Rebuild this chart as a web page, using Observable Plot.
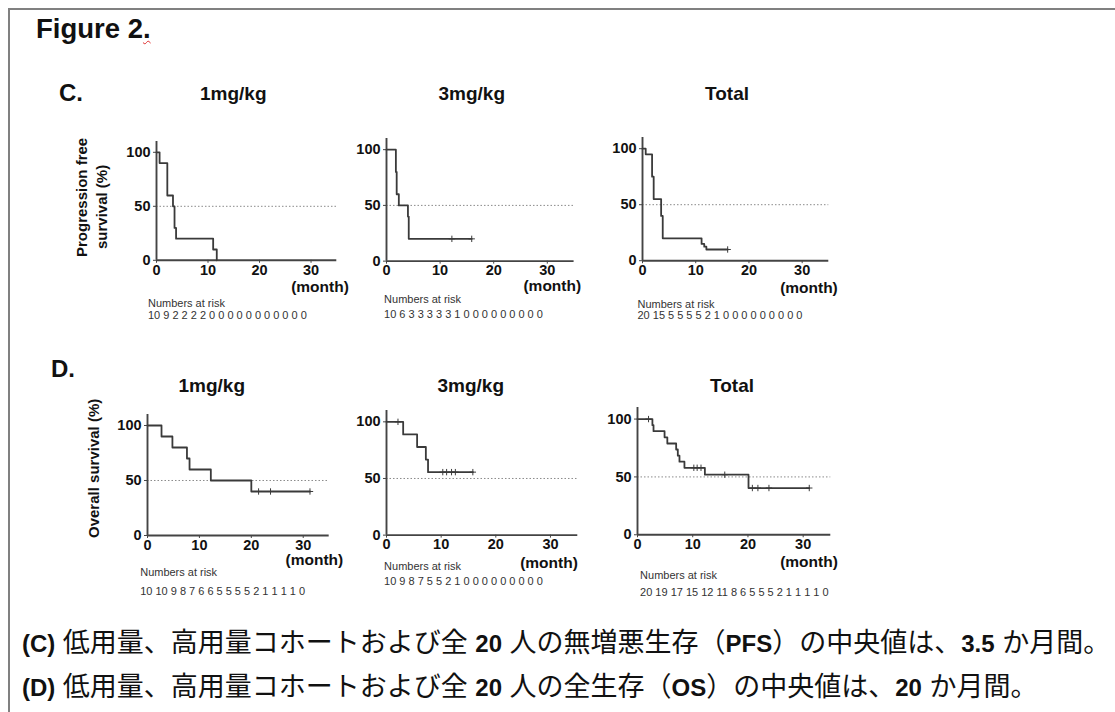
<!DOCTYPE html>
<html><head><meta charset="utf-8">
<script src="https://cdn.jsdelivr.net/npm/d3@7"></script>
<script src="https://cdn.jsdelivr.net/npm/@observablehq/plot@0.6"></script>
<style>
body{margin:0;background:#fff;}
#root{position:relative;width:1115px;height:712px;overflow:hidden;font-family:"Liberation Sans",Arial,sans-serif;color:#111;background:#fff;}
.abs{position:absolute;white-space:nowrap;line-height:1;}
.b{font-weight:bold;}
.vlab{position:absolute;white-space:nowrap;font-weight:bold;font-size:15px;line-height:1;transform-origin:0 0;transform:rotate(-90deg);}
.cap{position:absolute;white-space:nowrap;font-size:27px;line-height:1;font-family:"Liberation Sans","Noto Sans CJK JP",sans-serif;}
.cap b{font-family:"Liberation Sans",Arial,sans-serif;font-size:24px;}
.panel{position:absolute;}
</style></head><body><div id="root"></div>
<script>
// ---------- data ----------
const panelTitles = ["1mg/kg", "3mg/kg", "Total"];
const xTicks = [0, 10, 20, 30];
const yTicks = [0, 50, 100];
const xUnit = "(month)";
const riskLabel = "Numbers at risk";

// C. Progression free survival
const pfs1Time = [0, 0.6, 2.1, 3.2, 3.5, 3.8, 11.0, 11.7];
const pfs1Surv = [100, 90, 60, 50, 30, 20, 10, 0];
const pfs1Cens = [];
const pfs3Time = [0, 1.75, 1.9, 2.3, 4.0, 4.15, 15.9];
const pfs3Surv = [100, 80, 60, 50, 40, 20, 20];
const pfs3Cens = [12.2, 15.9];
const pfsTTime = [0, 0.6, 1.8, 2.1, 3.5, 3.8, 11.1, 11.6, 12.0, 16.0];
const pfsTSurv = [100, 95, 75, 55, 40, 20, 15, 12.5, 10, 10];
const pfsTCens = [16.0];

// D. Overall survival
const os1Time = [0, 2.7, 4.8, 7.6, 8.1, 12.2, 20.0, 31.3];
const os1Surv = [100, 90, 80, 70, 60, 50, 40, 40];
const os1Cens = [21.4, 23.7, 31.3];
const os3Time = [0, 3.05, 5.6, 7.2, 7.6, 15.8];
const os3Surv = [100, 88.9, 77.8, 66.7, 55.6, 55.6];
const os3Cens = [2.1, 10.3, 11.0, 11.9, 12.6, 15.8];
const osTTime = [0, 2.7, 2.9, 4.9, 5.4, 7.0, 7.3, 7.6, 8.5, 12.2, 20.1, 31.1];
const osTSurv = [100, 94.7, 89.5, 84.2, 78.9, 73.7, 68.4, 63.2, 57.9, 51.9, 40.4, 40.4];
const osTCens = [2.0, 10.2, 10.8, 11.5, 15.8, 20.8, 21.8, 23.8, 31.1];

// numbers at risk (every 2 months)
const riskPfs1 = [10, 9, 2, 2, 2, 2, 0, 0, 0, 0, 0, 0, 0, 0, 0, 0, 0];
const riskPfs3 = [10, 6, 3, 3, 3, 3, 3, 1, 0, 0, 0, 0, 0, 0, 0, 0, 0];
const riskPfsT = [20, 15, 5, 5, 5, 5, 2, 1, 0, 0, 0, 0, 0, 0, 0, 0, 0];
const riskOs1 = [10, 10, 9, 8, 7, 6, 6, 5, 5, 5, 5, 2, 1, 1, 1, 1, 0];
const riskOs3 = [10, 9, 8, 7, 5, 5, 2, 1, 0, 0, 0, 0, 0, 0, 0, 0, 0];
const riskOsT = [20, 19, 17, 15, 12, 11, 8, 6, 5, 5, 5, 2, 1, 1, 1, 1, 0];

// ---------- layout (pixel geometry only) ----------
const panels = [
  {T: pfs1Time, S: pfs1Surv, C: pfs1Cens, R: riskPfs1, ox: 155.7, x1: 336, y0: 259.5, y100: 151.5, rdx: -8.5, rdy1: 47, rdy2: 59, mdx: 12, mdy: 32},
  {T: pfs3Time, S: pfs3Surv, C: pfs3Cens, R: riskPfs3, ox: 385.7, x1: 573.3, y0: 260.5, y100: 149, rdx: -2.4, rdy1: 42, rdy2: 57, mdx: 7, mdy: 30},
  {T: pfsTTime, S: pfsTSurv, C: pfsTCens, R: riskPfsT, ox: 641.7, x1: 828, y0: 260.5, y100: 148.5, rdx: -5, rdy1: 47, rdy2: 58, mdx: 9, mdy: 32},
  {T: os1Time, S: os1Surv, C: os1Cens, R: riskOs1, ox: 147.3, x1: 329, y0: 535, y100: 425, rdx: -7.3, rdy1: 41, rdy2: 60, mdx: 14, mdy: 30},
  {T: os3Time, S: os3Surv, C: os3Cens, R: riskOs3, ox: 385.7, x1: 577, y0: 535, y100: 421.7, rdx: -2.4, rdy1: 35, rdy2: 50, mdx: 0, mdy: 33},
  {T: osTTime, S: osTSurv, C: osTCens, R: riskOsT, ox: 636.7, x1: 830, y0: 534, y100: 418.3, rdx: 2.6, rdy1: 44, rdy2: 61, mdx: 7, mdy: 32}
];

const root = document.getElementById("root");
function addDiv(cls, html, style) {
  const d = document.createElement("div");
  d.className = cls;
  d.innerHTML = html;
  Object.assign(d.style, style);
  root.appendChild(d);
  return d;
}

// border
addDiv("abs", "", {left: "8px", top: "8px", width: "1107px", height: "2px", background: "#808080"});
addDiv("abs", "", {left: "8px", top: "8px", width: "2px", height: "704px", background: "#808080"});

addDiv("abs b", 'Figure 2<span style="text-decoration:underline wavy #e03030;text-decoration-thickness:1px;text-underline-offset:2px">.</span>', {left: "36px", top: "15px", fontSize: "27.5px"});
addDiv("abs b", "C.", {left: "59px", top: "81px", fontSize: "24px"});
addDiv("abs b", "D.", {left: "51px", top: "357px", fontSize: "24px"});

const titleCenters = [[233.5, 84], [472, 84], [727, 84], [212, 376], [471, 376], [732, 376]];
titleCenters.forEach(([cx, top], i) => {
  const d = addDiv("abs b", panelTitles[i % 3], {top: top + "px", fontSize: "19px"});
  d.style.left = (cx - d.offsetWidth / 2) + "px";
});

// y labels (rotated)
function vlabel(text, cx, cy) {
  const d = addDiv("vlab", text, {});
  const w = d.offsetWidth, h = d.offsetHeight;
  d.style.left = (cx - h / 2) + "px";
  d.style.top = (cy + w / 2) + "px";
}
vlabel("Progression free", 81, 197);
vlabel("survival (%)", 101, 207);
vlabel("Overall survival (%)", 93, 468);

// panels
const ML = 45, MR = 30, MT = 4, MB = 70;
panels.forEach(p => {
  const rows = p.T.map((t, i) => ({t, s: p.S[i]}));
  const stepAt = t => { let v = p.S[0]; p.T.forEach((tt, i) => { if (tt <= t) v = p.S[i]; }); return v; };
  const cens = p.C.map(t => ({t, s: stepAt(t)}));
  const yTop = p.y0 - 1.1 * (p.y0 - p.y100);
  const fw = p.x1 - p.ox, fh = p.y0 - yTop;
  const chart = Plot.plot({
    width: ML + fw + MR,
    height: MT + fh + MB,
    marginLeft: ML, marginRight: MR, marginTop: MT, marginBottom: MB,
    style: {fontFamily: "Liberation Sans, Arial, sans-serif", color: "#111", background: "transparent", overflow: "visible"},
    x: {domain: [0, 35], axis: null},
    y: {domain: [0, 110], axis: null},
    marks: [
      Plot.ruleY([50], {stroke: "#8a8a8a", strokeDasharray: "1.5 2", strokeWidth: 1}),
      Plot.axisX(xTicks, {label: null, tickSize: 3, tickPadding: 1, fontSize: 14.5, fontWeight: "bold", stroke: "#444"}),
      Plot.axisY(yTicks, {label: null, tickSize: 3, tickPadding: 3, fontSize: 14.5, fontWeight: "bold", stroke: "#444"}),
      Plot.ruleX([0], {stroke: "#444", strokeWidth: 1.9}),
      Plot.ruleY([0], {stroke: "#444", strokeWidth: 1.9}),
      Plot.line(rows, {x: "t", y: "s", curve: "step-after", stroke: "#3a3a3a", strokeWidth: 1.8}),
      Plot.dot(cens, {x: "t", y: "s", symbol: "plus", r: 2.2, stroke: "#3a3a3a", strokeWidth: 1}),
      Plot.text([xUnit], {text: d => d, frameAnchor: "bottom-right", textAnchor: "end", dx: p.mdx, dy: p.mdy, fontSize: 15.5, fontWeight: "bold", fill: "#111"}),
      Plot.text([riskLabel], {text: d => d, frameAnchor: "bottom-left", textAnchor: "start", dx: p.rdx, dy: p.rdy1, fontSize: 11, fill: "#333"}),
      Plot.text([p.R.join(" ")], {text: d => d, frameAnchor: "bottom-left", textAnchor: "start", dx: p.rdx, dy: p.rdy2, fontSize: 11, fill: "#333", style: "letter-spacing:0.65px"})
    ]
  });
  chart.classList.add("panel");
  chart.style.left = (p.ox - ML) + "px";
  chart.style.top = (yTop - MT) + "px";
  chart.style.maxWidth = "none";
  root.appendChild(chart);
});

// captions
addDiv("cap", '<b>(C)</b> 低用量、高用量コホートおよび全 <b>20</b> 人の無増悪生存（<b>PFS</b>）の中央値は、<b>3.5</b> か月間。', {left: "22px", top: "630px"});
addDiv("cap", '<b>(D)</b> 低用量、高用量コホートおよび全 <b>20</b> 人の全生存（<b>OS</b>）の中央値は、<b>20</b> か月間。', {left: "22px", top: "674px"});
</script>
</body></html>
